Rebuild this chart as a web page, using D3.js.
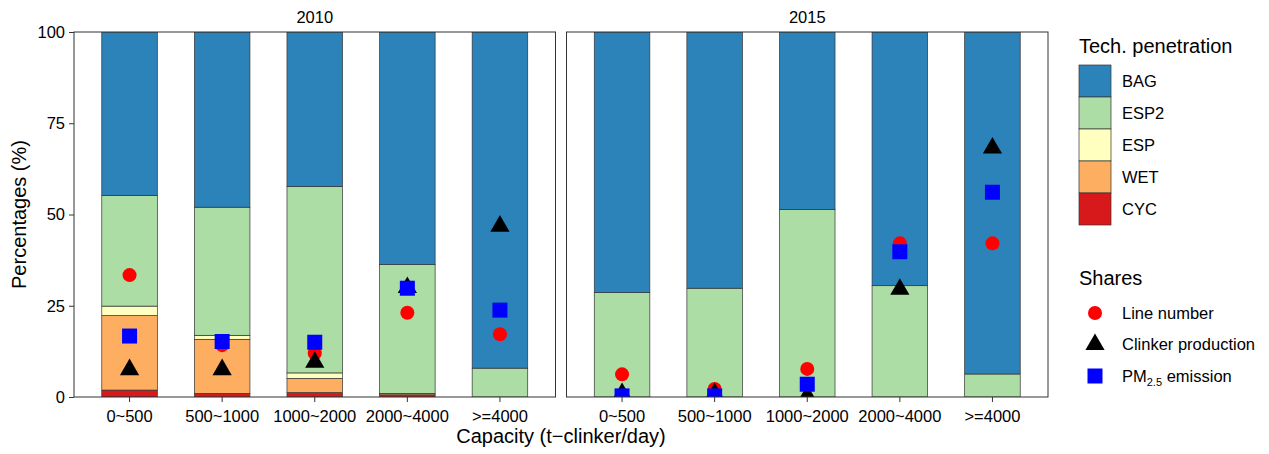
<!DOCTYPE html>
<html lang="en">
<head>
<meta charset="utf-8">
<title>Tech penetration by capacity</title>
<script src="https://cdn.jsdelivr.net/npm/d3@7"></script>
<style>
  body { margin: 0; background: #fff; }
  text { font-family: "Liberation Sans", Arial, Helvetica, sans-serif; fill: #000; }
</style>
</head>
<body>
<script>
// categories and series
var categories = ["0~500", "500~1000", "1000~2000", "2000~4000", ">=4000"];
var years = ["2010", "2015"];
var techs = ["BAG", "ESP2", "ESP", "WET", "CYC"];          // legend order (top to bottom)
var stackOrder = ["CYC", "WET", "ESP", "ESP2", "BAG"];    // drawn bottom up
var techColors = ["#2B83BA", "#ABDDA4", "#FFFFBF", "#FDAE61", "#D7191C"];

// tech shares (%) per year, one value per capacity class
var cyc2010  = [1.9, 1.0, 1.2, 0.6, 0];
var wet2010  = [20.4, 14.8, 3.9, 0.4, 0];
var esp2010  = [2.6, 1.1, 1.5, 0, 0];
var esp22010 = [30.3, 35.1, 51.1, 35.3, 7.9];
var bag2010  = [44.8, 48.0, 42.3, 63.7, 92.1];

var cyc2015  = [0, 0, 0, 0, 0];
var wet2015  = [0, 0, 0, 0, 0];
var esp2015  = [0, 0, 0, 0, 0];
var esp22015 = [28.6, 29.8, 51.4, 30.5, 6.3];
var bag2015  = [71.4, 70.2, 48.6, 69.5, 93.7];

// shares (points)
var lineNumber2010 = [33.4, 14.2, 12.0, 23.1, 17.2];
var lineNumber2015 = [6.2, 2.2, 7.7, 42.1, 42.1];
var clinker2010    = [7.5, 7.5, 9.5, 30.0, 46.8];
var clinker2015    = [0.9, 0.9, 0.3, 29.5, 68.2];
var pm2010         = [16.7, 15.2, 15.0, 29.8, 23.8];
var pm2015         = [0.3, 0.3, 3.5, 39.8, 56.1];

var yTicks = [0, 25, 50, 75, 100];

var techData = {
  "2010": { CYC: cyc2010, WET: wet2010, ESP: esp2010, ESP2: esp22010, BAG: bag2010 },
  "2015": { CYC: cyc2015, WET: wet2015, ESP: esp2015, ESP2: esp22015, BAG: bag2015 }
};
var shareData = {
  "2010": [lineNumber2010, clinker2010, pm2010],
  "2015": [lineNumber2015, clinker2015, pm2015]
};

var w = 1269, h = 454;
var panels = [[74, 555.5], [566.5, 1048]];
var plotTop = 32, plotBottom = 397;

var color = d3.scaleOrdinal().domain(techs).range(techColors);
var y = d3.scaleLinear().domain([0, 100]).range([plotBottom, plotTop]);

var svg = d3.select("body").append("svg")
  .attr("width", w)
  .attr("height", h);

// point drawers: circle, triangle, square
var shapes = [
  function(g, cx, cy) {
    g.append("circle").attr("cx", cx).attr("cy", cy).attr("r", 7).attr("fill", "#FF0000");
  },
  function(g, cx, cy) {
    g.append("path").attr("d", d3.symbol(d3.symbolTriangle, 160)())
      .attr("transform", "translate(" + cx + "," + cy + ")").attr("fill", "#000");
  },
  function(g, cx, cy) {
    g.append("rect").attr("x", cx - 7.5).attr("y", cy - 7.5)
      .attr("width", 15).attr("height", 15).attr("fill", "#0000FF");
  }
];

years.forEach(function(year, pi) {
  var x = d3.scaleBand()
    .domain(categories)
    .range(panels[pi])
    .paddingInner(0.4)
    .paddingOuter(0.3);

  svg.append("clipPath").attr("id", "clip" + pi)
    .append("rect")
      .attr("x", panels[pi][0]).attr("y", plotTop)
      .attr("width", panels[pi][1] - panels[pi][0]).attr("height", plotBottom - plotTop);

  var g = svg.append("g").attr("clip-path", "url(#clip" + pi + ")");

  // stacked bars
  categories.forEach(function(cat, ci) {
    var acc = 0;
    stackOrder.forEach(function(t) {
      var v = techData[year][t][ci];
      if (v > 0) {
        g.append("rect")
          .attr("x", x(cat))
          .attr("width", x.bandwidth())
          .attr("y", y(acc + v))
          .attr("height", y(acc) - y(acc + v))
          .attr("fill", color(t))
          .attr("stroke", "#333")
          .attr("stroke-width", 0.7);
      }
      acc += v;
    });
  });

  // share points
  shareData[year].forEach(function(series, si) {
    series.forEach(function(v, ci) {
      shapes[si](g, x(categories[ci]) + x.bandwidth() / 2, y(v));
    });
  });

  // panel border
  svg.append("rect")
    .attr("x", panels[pi][0]).attr("y", plotTop)
    .attr("width", panels[pi][1] - panels[pi][0]).attr("height", plotBottom - plotTop)
    .attr("fill", "none").attr("stroke", "#333").attr("stroke-width", 1);

  // x axis
  var xAxis = svg.append("g")
    .attr("transform", "translate(0," + plotBottom + ")")
    .call(d3.axisBottom(x).tickSize(5).tickPadding(8));
  xAxis.select(".domain").remove();
  xAxis.selectAll("line").attr("stroke", "#333");
  xAxis.selectAll("text").style("font-size", "16.5px").attr("fill", "#000");

  // strip label
  svg.append("text")
    .attr("x", (panels[pi][0] + panels[pi][1]) / 2)
    .attr("y", 23)
    .attr("text-anchor", "middle")
    .style("font-size", "16.5px")
    .text(year);
});

// y axis
var yAxis = svg.append("g")
  .attr("transform", "translate(" + panels[0][0] + ",0)")
  .call(d3.axisLeft(y).tickValues(yTicks).tickSize(5).tickPadding(4));
yAxis.select(".domain").remove();
yAxis.selectAll("line").attr("stroke", "#333");
yAxis.selectAll("text").style("font-size", "16.5px").attr("fill", "#000");

// axis titles
svg.append("text")
  .attr("x", (panels[0][0] + panels[1][1]) / 2)
  .attr("y", 443)
  .attr("text-anchor", "middle")
  .style("font-size", "20px")
  .text("Capacity (t\u2212clinker/day)");

svg.append("text")
  .attr("transform", "translate(26," + ((plotTop + plotBottom) / 2) + ") rotate(-90)")
  .attr("text-anchor", "middle")
  .style("font-size", "20px")
  .text("Percentages (%)");

// legend: tech penetration
var lx = 1079;
svg.append("text").attr("x", lx).attr("y", 53).style("font-size", "20px").text("Tech. penetration");
techs.forEach(function(t, i) {
  var ky = 65 + i * 32;
  svg.append("rect")
    .attr("x", lx).attr("y", ky).attr("width", 32).attr("height", 32)
    .attr("fill", color(t)).attr("stroke", "#333").attr("stroke-width", 0.7);
  svg.append("text")
    .attr("x", 1122).attr("y", ky + 16)
    .attr("dy", "0.35em")
    .style("font-size", "16.5px")
    .text(t);
});

// legend: shares
svg.append("text").attr("x", lx).attr("y", 285).style("font-size", "20px").text("Shares");
var shareLabels = ["Line number", "Clinker production", "PM2.5 emission"];
shareLabels.forEach(function(lab, i) {
  var ky = 313 + i * 31.5;
  shapes[i](svg, 1095, ky);
  var t = svg.append("text")
    .attr("x", 1122).attr("y", ky)
    .attr("dy", "0.35em")
    .style("font-size", "16.5px");
  if (i === 2) {
    t.append("tspan").text("PM");
    t.append("tspan").attr("dy", "4").style("font-size", "11px").text("2.5");
    t.append("tspan").attr("dy", "-4").text(" emission");
  } else {
    t.text(lab);
  }
});
</script>
</body>
</html>
